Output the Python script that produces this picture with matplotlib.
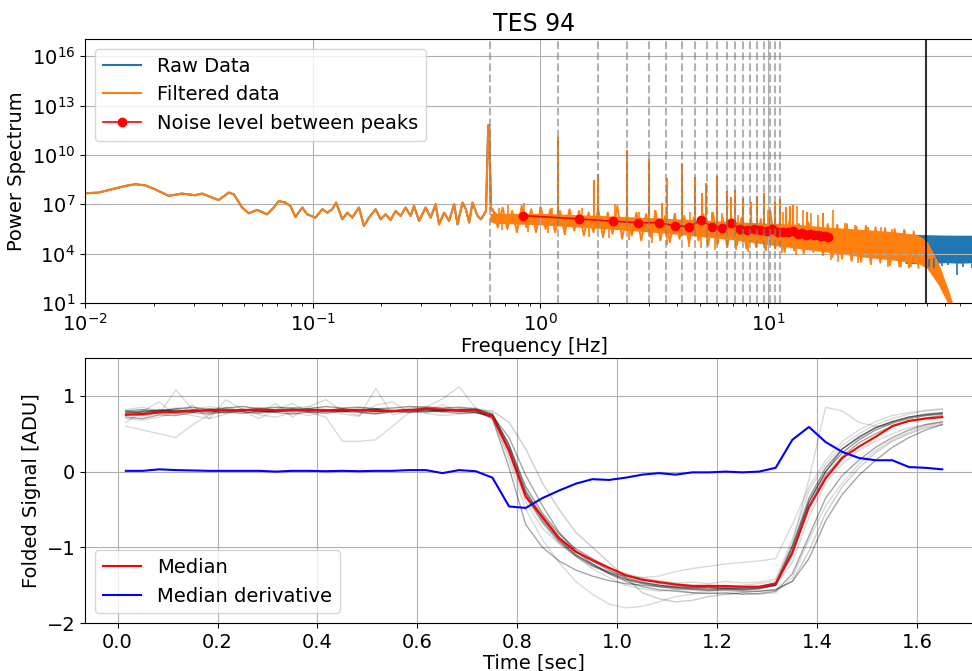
import numpy as np
import matplotlib
matplotlib.use('Agg')
import matplotlib.pyplot as plt
from matplotlib.ticker import NullLocator

# ---- power spectrum (values are log10 of the power) ----
# low frequency part, drawn as a line
low_logf = [-2.0, -1.941, -1.883, -1.824, -1.78, -1.736, -1.692, -1.633, -1.575, -1.516,
            -1.486, -1.45, -1.413, -1.369, -1.347, -1.31, -1.281, -1.244, -1.2, -1.171,
            -1.149, -1.12, -1.098, -1.076, -1.046, -1.024, -0.988, -0.958, -0.936, -0.914,
            -0.897, -0.87, -0.848, -0.826, -0.797, -0.775, -0.753, -0.724, -0.702, -0.68,
            -0.658, -0.636, -0.614, -0.592, -0.57, -0.555, -0.533, -0.504, -0.482, -0.46,
            -0.445, -0.423, -0.401, -0.379, -0.364, -0.342, -0.327, -0.313, -0.298, -0.276,
            -0.261, -0.239, -0.229, -0.225, -0.217, -0.195]
low_logp = [7.67, 7.71, 7.91, 8.11, 8.22, 8.15, 7.91, 7.51, 7.65, 7.55,
            7.65, 7.45, 7.26, 7.71, 7.61, 6.80, 6.45, 6.66, 6.39, 6.80,
            7.20, 7.10, 6.90, 6.23, 6.80, 6.39, 6.19, 6.70, 6.49, 6.70,
            7.10, 6.09, 6.49, 6.19, 6.80, 5.68, 6.19, 6.70, 6.09, 6.39,
            6.05, 6.59, 6.29, 6.80, 6.29, 6.90, 5.99, 6.80, 6.19, 7.00,
            5.78, 6.49, 5.99, 7.00, 5.78, 7.10, 6.70, 5.89, 7.10, 6.29,
            6.09, 6.59, 11.8, 11.8, 6.70, 6.39]

# dense core of the filtered spectrum
band_f = [0.60, 0.63, 1.0, 2.0, 3.5, 5.0, 7.0, 10, 13, 18, 26, 36, 45.7, 50, 56, 62, 66]
band_hi = [6.45, 6.45, 6.45, 6.3, 6.15, 6.05, 5.95, 5.85, 5.8, 5.62, 5.47, 5.33, 5.13,
           4.75, 3.45, 1.8, 0.6]
band_lo = [5.95, 5.85, 5.75, 5.5, 5.25, 5.05, 4.85, 4.55, 4.35, 4.1, 3.8, 3.6, 3.4,
           3.1, 2.1, 0.9, 0.3]

# jagged noise around the core
zig_f = [0.619, 0.650, 0.682, 0.716, 0.752, 0.789, 0.828, 0.869, 0.912, 0.957,
         1.005, 1.054, 1.107, 1.161, 1.219, 1.279, 1.343, 1.409, 1.479, 1.552,
         1.629, 1.710, 1.795, 1.884, 1.977, 2.075, 2.178, 2.286, 2.399, 2.518,
         2.642, 2.773, 2.911, 3.055, 3.206, 3.365, 3.532, 3.707, 3.890, 4.083,
         4.285, 4.498, 4.721, 4.955, 5.200, 5.458, 5.728, 6.012, 6.310, 6.622,
         6.950, 7.295, 7.656, 8.035, 8.433, 8.851, 9.290, 9.750, 10.23, 10.74,
         11.27, 11.83, 12.42, 13.03, 13.68, 14.35, 15.07, 15.81, 16.60, 17.42,
         18.28, 19.19, 20.14, 21.13, 22.18, 23.28, 24.43, 25.64, 26.92, 28.25,
         29.65, 31.12, 32.66, 34.28, 35.97, 37.76, 39.63, 41.59, 43.65, 45.81]
zig_p = [6.7, 5.6, 6.8, 5.5, 6.6, 5.3, 6.9, 5.6, 6.7, 5.3,
         6.8, 5.5, 6.7, 5.3, 6.6, 5.2, 6.7, 5.4, 6.6, 5.1,
         6.5, 5.3, 6.7, 5.0, 6.5, 5.2, 6.9, 4.9, 6.4, 5.1,
         6.5, 4.8, 6.4, 5.0, 6.6, 4.8, 6.3, 4.7, 6.4, 4.9,
         6.3, 4.6, 6.2, 4.8, 6.4, 4.5, 6.5, 4.6, 6.2, 4.4,
         6.1, 4.5, 6.2, 4.3, 6.0, 4.4, 6.1, 4.2, 6.6, 4.3,
         5.9, 4.1, 6.0, 4.2, 5.8, 4.0, 5.9, 4.1, 5.7, 3.9,
         5.8, 3.8, 5.75, 3.7, 5.8, 3.55, 5.65, 3.5, 5.7, 3.4,
         5.6, 3.45, 5.55, 3.3, 5.5, 3.2, 5.45, 3.15, 5.35, 3.15]

# single noise excursions out of the band
up_f = [0.66, 0.72, 0.85, 1.0, 1.12, 1.33, 1.52, 2.13, 2.7, 3.19, 3.9, 4.55, 5.68, 6.3,
        7.4, 10.0, 11.6, 13.4, 14.3, 15.5, 16.6, 19.2, 21.7, 24.0, 27.5, 31.4, 35.0, 40.0]
up_p = [6.8, 6.95, 7.06, 6.85, 6.76, 6.65, 6.76, 7.0, 6.56, 6.65, 6.45, 6.56, 6.56, 6.5,
        6.35, 6.65, 6.56, 6.9, 6.65, 6.45, 6.34, 6.65, 5.85, 5.75, 5.64, 5.64, 5.5, 5.4]
dn_f = [0.675, 0.88, 1.08, 1.28, 1.63, 2.0, 2.45, 3.09, 3.6, 4.5, 5.1, 5.85,
        7.2, 8.2, 9.8, 11.5, 13.3, 18.9, 20.2, 24.8, 28.4, 33.6, 38.5, 42.6]
dn_p = [5.44, 5.33, 5.23, 5.13, 5.03, 4.93, 4.83, 4.63, 4.52, 4.42, 4.32, 4.22,
        4.22, 4.12, 4.22, 4.02, 3.92, 3.61, 3.51, 3.41, 3.31, 3.2, 3.16, 3.16]

# harmonic peaks
peak_f = [1.2, 1.72, 1.79, 2.4, 2.99, 3.43, 3.59, 4.19, 4.8, 5.14, 5.36, 5.99, 6.61,
          6.9, 7.19, 7.8, 8.4, 8.93, 9.59, 10.7, 11.3, 12.0, 12.5, 12.9, 14.8, 17.5]
peak_p = [11.11, 8.48, 8.84, 10.30, 9.73, 7.1, 8.62, 9.43, 8.68, 7.67, 8.28, 8.74, 7.83,
          7.46, 7.87, 7.36, 7.12, 7.52, 7.67, 7.16, 7.30, 6.85, 6.9, 6.96, 6.55, 6.45]

# raw data band above the filter cutoff
raw_f = [40, 50, 60, 70, 80, 88]
raw_hi = [5.2, 5.15, 5.13, 5.12, 5.12, 5.12]
raw_lo = [3.4, 3.4, 3.45, 3.42, 3.45, 3.45]
raw_dn_f = [51, 53.8, 58, 62, 67.6, 72, 79]
raw_dn_p = [3.2, 3.1, 3.25, 3.3, 2.7, 3.2, 3.15]

# noise level between peaks
noise_f = [0.84, 1.48, 2.09, 2.69, 3.31, 3.89, 4.48, 5.09, 5.68, 6.26, 6.90, 7.54, 8.09,
           8.66, 9.26, 9.85, 10.46, 11.05, 11.65, 12.25, 12.9, 13.5, 14.1, 14.7, 15.3,
           15.9, 16.5, 17.1, 17.7, 18.3]
noise_p = [6.31, 6.11, 5.97, 5.88, 5.88, 5.70, 5.64, 6.03, 5.64, 5.56, 5.88, 5.50, 5.44,
           5.50, 5.44, 5.38, 5.48, 5.34, 5.30, 5.30, 5.36, 5.20, 5.24, 5.15, 5.18,
           5.15, 5.15, 5.10, 5.09, 5.03]

harm_f = [0.6, 1.2, 1.79, 2.39, 2.99, 3.58, 4.18, 4.78, 5.37, 5.97, 6.57, 7.16, 7.76,
          8.36, 8.95, 9.55, 10.15, 10.74, 11.3]
cutoff_f = 49.3

# ---- folded signal ----
t = (np.arange(50) + 0.5) / 30.0
median = [0.75, 0.76, 0.78, 0.79, 0.80, 0.81, 0.81, 0.81, 0.82, 0.81,
          0.81, 0.81, 0.81, 0.82, 0.81, 0.80, 0.80, 0.81, 0.83, 0.82,
          0.81, 0.81, 0.73, 0.27, -0.33, -0.60, -0.88, -1.06, -1.17, -1.27,
          -1.37, -1.43, -1.46, -1.49, -1.51, -1.51, -1.51, -1.52, -1.52, -1.48,
          -1.07, -0.47, -0.09, 0.18, 0.33, 0.46, 0.60, 0.67, 0.70, 0.72]
deriv = [0.01, 0.01, 0.03, 0.02, 0.015, 0.01, 0.01, 0.01, 0.01, 0.0,
         0.01, 0.01, 0.005, 0.01, 0.005, 0.01, 0.01, 0.02, 0.02, -0.02,
         0.02, 0.005, -0.08, -0.46, -0.48, -0.35, -0.25, -0.16, -0.10, -0.11,
         -0.08, -0.04, -0.02, -0.04, -0.01, -0.01, 0.0, -0.01, 0.0, 0.05,
         0.42, 0.59, 0.39, 0.26, 0.18, 0.15, 0.15, 0.06, 0.05, 0.03]

traces = [
    [0.80, 0.82, 0.80, 0.83, 0.85, 0.82, 0.84, 0.86, 0.83, 0.85, 0.84, 0.83, 0.86, 0.84, 0.85, 0.83, 0.84, 0.86, 0.85, 0.84,
     0.85, 0.83, 0.76, 0.35, -0.25, -0.62, -0.90, -1.10, -1.22, -1.33, -1.42, -1.47, -1.50, -1.53, -1.55, -1.56, -1.55, -1.56, -1.55, -1.50,
     -1.00, -0.40, 0.00, 0.30, 0.45, 0.58, 0.66, 0.72, 0.76, 0.78],
    [0.72, 0.70, 0.75, 0.74, 0.78, 0.76, 0.79, 0.77, 0.80, 0.78, 0.76, 0.79, 0.77, 0.80, 0.78, 0.76, 0.79, 0.78, 0.80, 0.79,
     0.77, 0.78, 0.74, 0.45, -0.05, -0.45, -0.80, -1.05, -1.22, -1.35, -1.45, -1.52, -1.56, -1.58, -1.60, -1.61, -1.60, -1.62, -1.61, -1.58,
     -1.35, -0.85, -0.35, -0.05, 0.15, 0.32, 0.45, 0.55, 0.62, 0.66],
    [0.65, 0.80, 0.92, 0.75, 0.88, 0.70, 0.95, 0.82, 0.78, 0.90, 0.72, 0.86, 0.95, 0.80, 0.74, 0.88, 0.92, 0.78, 0.85, 0.96,
     1.12, 0.84, 0.70, 0.20, -0.40, -0.75, -0.95, -1.12, -1.25, -1.32, -1.38, -1.42, -1.44, -1.47, -1.46, -1.48, -1.45, -1.47, -1.46, -1.42,
     -0.90, -0.25, 0.10, 0.35, 0.50, 0.62, 0.70, 0.76, 0.80, 0.82],
    [0.60, 0.55, 0.50, 0.45, 0.62, 0.75, 0.85, 0.80, 0.70, 0.82, 0.90, 0.78, 0.72, 0.40, 0.40, 0.42, 0.60, 0.78, 0.82, 0.88,
     0.80, 0.82, 0.75, 0.30, -0.30, -0.65, -0.92, -1.12, -1.28, -1.40, -1.50, -1.55, -1.58, -1.56, -1.60, -1.58, -1.55, -1.57, -1.54, -1.50,
     -1.20, -0.60, -0.15, 0.10, 0.28, 0.40, 0.50, 0.58, 0.62, 0.65],
    [0.78, 0.76, 0.80, 0.82, 0.79, 0.81, 0.80, 0.83, 0.81, 0.79, 0.82, 0.80, 0.81, 0.83, 0.80, 0.82, 0.81, 0.79, 0.82, 0.80,
     0.83, 0.82, 0.80, 0.65, 0.30, -0.15, -0.50, -0.80, -1.00, -1.20, -1.40, -1.60, -1.68, -1.72, -1.70, -1.65, -1.62, -1.60, -1.58, -1.56,
     -1.45, -1.05, -0.55, -0.20, 0.05, 0.25, 0.40, 0.50, 0.58, 0.62],
    [0.82, 0.85, 0.80, 0.84, 0.82, 0.86, 0.83, 0.81, 0.85, 0.82, 0.84, 0.86, 0.82, 0.80, 0.84, 0.83, 0.81, 0.84, 0.86, 0.83,
     0.82, 0.84, 0.78, 0.25, -0.35, -0.68, -0.95, -1.12, -1.25, -1.34, -1.38, -1.40, -1.38, -1.32, -1.28, -1.25, -1.22, -1.20, -1.18, -1.15,
     -0.70, -0.20, 0.15, 0.40, 0.55, 0.66, 0.74, 0.78, 0.81, 0.83],
    [0.76, 0.79, 0.82, 0.80, 0.78, 0.83, 0.80, 0.82, 0.79, 0.81, 0.83, 0.80, 0.82, 0.79, 0.81, 0.83, 0.80, 0.82, 0.84, 0.81,
     0.79, 0.80, 0.70, 0.05, -0.70, -1.00, -1.18, -1.30, -1.38, -1.44, -1.48, -1.50, -1.52, -1.53, -1.54, -1.53, -1.55, -1.54, -1.53, -1.50,
     -1.10, -0.45, -0.05, 0.20, 0.38, 0.50, 0.60, 0.67, 0.71, 0.74],
    [0.70, 0.68, 0.72, 0.78, 0.74, 0.70, 0.76, 0.80, 0.75, 0.72, 0.78, 0.74, 0.80, 0.76, 0.73, 1.10, 0.75, 0.80, 0.77, 0.74,
     0.76, 0.78, 0.72, 0.30, -0.30, -0.62, -0.88, -1.05, -1.18, -1.28, -1.35, -1.40, -1.45, -1.48, -1.50, -1.50, -1.52, -1.50, -1.48, -1.45,
     -0.95, -0.10, 0.85, 0.80, 0.65, 0.60, 0.62, 0.66, 0.70, 0.72],
    [0.74, 0.78, 0.76, 1.08, 0.82, 0.79, 0.77, 0.81, 0.84, 0.80, 0.78, 0.82, 0.80, 0.78, 0.82, 0.79, 0.81, 0.80, 0.78, 0.82,
     0.80, 0.79, 0.72, 0.15, -0.50, -0.90, -1.20, -1.45, -1.62, -1.75, -1.80, -1.78, -1.72, -1.65, -1.62, -1.60, -1.62, -1.60, -1.62, -1.60,
     -1.40, -0.90, -0.45, -0.15, 0.10, 0.28, 0.42, 0.52, 0.60, 0.64],
    [0.78, 0.80, 0.79, 0.81, 0.80, 0.82, 0.81, 0.80, 0.82, 0.81, 0.80, 0.82, 0.81, 0.80, 0.82, 0.81, 0.80, 0.82, 0.81, 0.80,
     0.82, 0.81, 0.74, 0.30, -0.28, -0.58, -0.86, -1.05, -1.18, -1.30, -1.40, -1.46, -1.50, -1.52, -1.53, -1.54, -1.54, -1.55, -1.54, -1.50,
     -1.05, -0.40, 0.00, 0.25, 0.42, 0.55, 0.64, 0.70, 0.74, 0.76],
    [0.80, 0.77, 0.81, 0.79, 0.82, 0.80, 0.78, 0.82, 0.80, 0.79, 0.81, 0.83, 0.79, 0.81, 0.80, 0.82, 0.79, 0.81, 0.83, 0.80,
     0.81, 0.82, 0.75, 0.35, -0.20, -0.55, -0.82, -1.02, -1.15, -1.27, -1.36, -1.42, -1.47, -1.50, -1.52, -1.52, -1.53, -1.53, -1.52, -1.47,
     -0.98, -0.35, 0.05, 0.30, 0.46, 0.58, 0.66, 0.72, 0.75, 0.77],
    [0.76, 0.74, 0.78, 0.77, 0.80, 0.78, 0.82, 0.79, 0.77, 0.80, 0.82, 0.78, 0.80, 0.83, 0.79, 0.77, 0.80, 0.82, 0.79, 0.81,
     0.80, 0.78, 0.72, 0.28, -0.32, -0.66, -0.92, -1.10, -1.24, -1.34, -1.43, -1.48, -1.52, -1.55, -1.56, -1.57, -1.57, -1.58, -1.58, -1.56,
     -1.45, -1.15, -0.65, -0.30, -0.05, 0.15, 0.32, 0.45, 0.55, 0.62],
]
trace_alpha = [0.4, 0.35, 0.15, 0.15, 0.2, 0.15, 0.35, 0.15, 0.15, 0.4, 0.4, 0.35]

plt.rcParams['font.size'] = 14

fig = plt.figure(figsize=(9.72, 6.71), dpi=100)
ax1 = fig.add_axes([0.0875, 0.5484, 0.9239, 0.3934])
ax2 = fig.add_axes([0.0875, 0.0715, 0.9239, 0.3949])

# top panel
lf = 10 ** np.array(low_logf)
lp = 10 ** np.array(low_logp)
ax1.plot(lf, lp, color='C0', label='Raw Data')
ax1.fill_between(raw_f, 10 ** np.array(raw_lo), 10 ** np.array(raw_hi), color='C0', lw=0)
raw_mid = np.interp(raw_dn_f, raw_f, raw_lo) + 0.3
ax1.vlines(raw_dn_f, 10 ** np.array(raw_dn_p), 10 ** raw_mid, color='C0', lw=1.2)

ax1.plot(lf, lp, color='C1', label='Filtered data')
ax1.fill_between(band_f, 10 ** np.array(band_lo), 10 ** np.array(band_hi), color='C1', lw=0)
ax1.plot(zig_f, 10 ** np.array(zig_p), color='C1', lw=1.4)
mid = lambda f: 10 ** ((np.interp(f, band_f, band_hi) + np.interp(f, band_f, band_lo)) / 2)
ax1.vlines(up_f, mid(up_f), 10 ** np.array(up_p), color='C1', lw=1.2)
ax1.vlines(dn_f, 10 ** np.array(dn_p), mid(dn_f), color='C1', lw=1.2)
ax1.vlines(peak_f, mid(peak_f), 10 ** np.array(peak_p), color='C1', lw=1.5)

ax1.plot(noise_f, 10 ** np.array(noise_p), 'r-o', ms=6, lw=1.2,
         label='Noise level between peaks')
for f in harm_f:
    ax1.axvline(f, color='gray', ls='--', alpha=0.6, lw=1.5)
ax1.axvline(cutoff_f, color='k', lw=1.5, alpha=0.8)

ax1.set_xscale('log')
ax1.set_yscale('log')
ax1.set_xlim(0.01, 88)
ax1.set_ylim(10, 1.1e17)
ax1.set_yticks([1e1, 1e4, 1e7, 1e10, 1e13, 1e16])
ax1.yaxis.set_minor_locator(NullLocator())
ax1.grid(True)
ax1.set_xlabel('Frequency [Hz]', labelpad=2)
ax1.set_ylabel('Power Spectrum')
ax1.set_title('TES 94', fontsize=17)
ax1.legend(loc='upper left')

# bottom panel
for tr, a in zip(traces, trace_alpha):
    ax2.plot(t, tr, color='k', alpha=a, lw=1)
ax2.plot(t, median, color='r', lw=1.5, label='Median')
ax2.plot(t, deriv, color='b', lw=1.5, label='Median derivative')
ax2.set_ylim(-2, 1.5)
ax2.set_yticks([-2, -1, 0, 1])
ax2.set_xticks([0.0, 0.2, 0.4, 0.6, 0.8, 1.0, 1.2, 1.4, 1.6])
ax2.grid(True)
ax2.set_xlabel('Time [sec]', labelpad=1)
ax2.set_ylabel('Folded Signal [ADU]')
ax2.legend(loc='lower left')

fig.savefig('out.png', dpi=100)
